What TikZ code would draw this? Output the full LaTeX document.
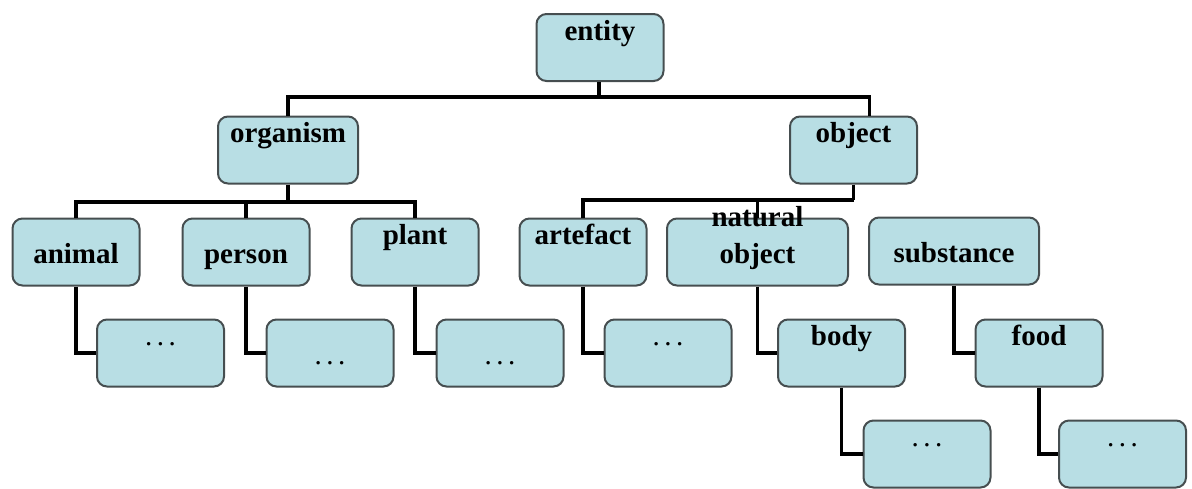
\documentclass[tikz,border=0pt]{standalone}
\usepackage{fontspec}
\setmainfont{Liberation Serif}
\usepackage{xcolor}
\usetikzlibrary{positioning}

\definecolor{boxfill}{RGB}{184,222,228}
\definecolor{boxline}{RGB}{70,78,80}
\newcommand{\more}{{\mdseries.\kern2.2pt.\kern2.2pt.}}

\begin{document}
\begin{tikzpicture}[x=0.5pt, y=-0.5pt,
    box/.style={rectangle, draw=boxline, line width=1pt, fill=boxfill, rounded corners=5pt,
        minimum width=63.5pt, minimum height=33.5pt, inner sep=2pt, align=center,
        font=\fontsize{14.5}{18.5}\selectfont\bfseries},
    hibox/.style={box, text height=10pt, text depth=17.5pt},
    midbox/.style={box, text height=12.5pt, text depth=1pt},
    link/.style={line width=1.7pt, black}]

    \useasboundingbox (0,0) rectangle (1192,488);

    \node[hibox] (entity) at (600,47.5) {entity};
    \node[hibox, minimum width=70pt] (organism) at (288,150) {organism};
    \node[hibox] (object) at (853.5,150) {object};

    \node[midbox] (animal) at (76,252) {animal};
    \node[midbox] (person) at (246,252) {person};
    \node[hibox] (plant) at (415,252) {plant};
    \node[hibox] (artefact) at (583,252) {artefact};
    \node[midbox, minimum width=90.5pt] (natural) at (757.5,252) {natural\\object};
    \node[midbox, minimum width=85pt] (substance) at (954,251) {substance};

    \node[hibox] (animal-more) at (160.5,353) {\more};
    \node[midbox] (person-more) at (330,353) {\more};
    \node[midbox] (plant-more) at (500,353) {\more};
    \node[hibox] (artefact-more) at (668,353) {\more};
    \node[hibox] (body) at (841.5,353) {body};
    \node[hibox] (food) at (1039,353) {food};

    \node[hibox] (body-more) at (927,454) {\more};
    \node[hibox] (food-more) at (1122.5,454) {\more};

    \coordinate (top-fork) at (599,97);
    \coordinate (org-fork) at (288,202);
    \coordinate (obj-fork) at (853.5,200);

    \draw[link] ([xshift=-0.5pt]entity.south) -- (top-fork);
    \draw[link] (top-fork) -| (organism);
    \draw[link] (top-fork) -| ([xshift=8pt]object.north);

    \draw[link] (organism) -- (org-fork);
    \draw[link] (org-fork) -| (animal);
    \draw[link] (org-fork) -| (person);
    \draw[link] (org-fork) -| (plant);

    \draw[link] (object) -- (obj-fork);
    \draw[link] (obj-fork) -| (artefact);
    \draw[link] (obj-fork) -| (natural);

    \draw[link] (animal) |- (animal-more);
    \draw[link] (person) |- (person-more);
    \draw[link] (plant) |- (plant-more);
    \draw[link] (artefact) |- (artefact-more);
    \draw[link] (natural) |- (body);
    \draw[link] (substance) |- (food);
    \draw[link] (body) |- (body-more);
    \draw[link] (food) |- (food-more);
\end{tikzpicture}
\end{document}
